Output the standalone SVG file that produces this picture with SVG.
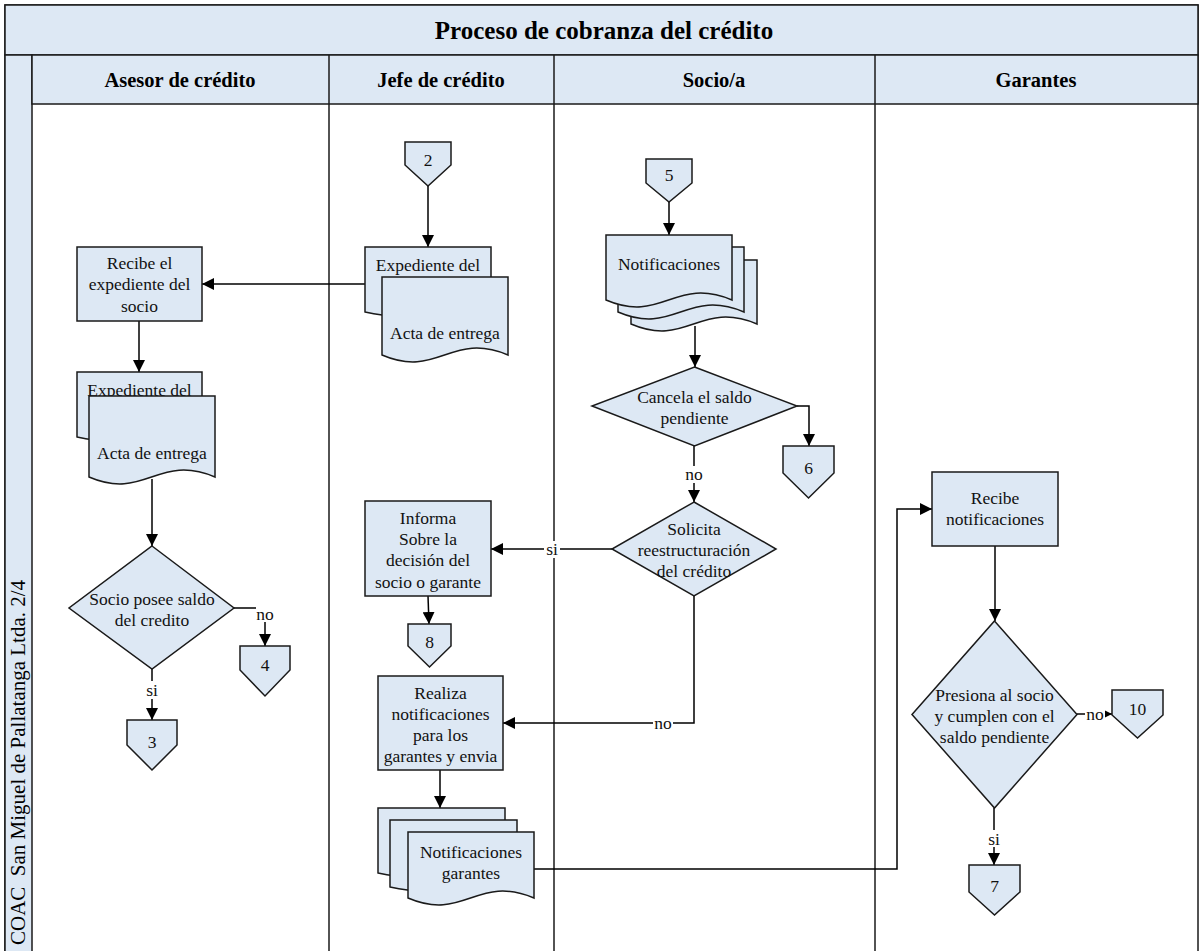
<svg xmlns="http://www.w3.org/2000/svg" width="1203" height="951" viewBox="0 0 1203 951">
<defs>
<marker id="ah" markerUnits="userSpaceOnUse" markerWidth="12" markerHeight="12" viewBox="0 0 12 12" refX="12" refY="6" orient="auto">
<path d="M0,0 L12,6 L0,12 Z" fill="#000"/>
</marker>
</defs>
<style>
.frame{fill:#fff;stroke:#1a1a1a;stroke-width:1.5}
.band{fill:#dde8f4;stroke:#1a1a1a;stroke-width:1.5}
.shape{fill:#dde8f4;stroke:#1a1a1a;stroke-width:1.5}
.lane{stroke:#1a1a1a;stroke-width:1.5;fill:none}
.t{font-family:"Liberation Serif","Times New Roman",serif;font-size:17.5px;fill:#111;text-anchor:middle}
.h{font-family:"Liberation Serif","Times New Roman",serif;font-size:20.5px;font-weight:bold;fill:#000;text-anchor:middle}
.title{font-family:"Liberation Serif","Times New Roman",serif;font-size:25px;font-weight:bold;fill:#000;text-anchor:middle}
.side{font-family:"Liberation Serif","Times New Roman",serif;font-size:21px;fill:#000}
.c{stroke:#000;stroke-width:1.5;fill:none}
.ca{stroke:#000;stroke-width:1.5;fill:none;marker-end:url(#ah)}
.lbg{fill:#fff}
</style>

<g id="pool">
<rect class="frame" x="5" y="5" width="1193" height="960"/>
<rect class="band" x="5" y="5" width="1193" height="50"/>
<rect class="band" x="5" y="55" width="27" height="910"/>
<rect class="band" x="32" y="55" width="1166" height="49"/>
<line class="lane" x1="329" y1="55" x2="329" y2="951"/>
<line class="lane" x1="554" y1="55" x2="554" y2="951"/>
<line class="lane" x1="875" y1="55" x2="875" y2="951"/>
<text class="title" x="604" y="39">Proceso de cobranza del crédito</text>
<text class="h" x="180" y="87">Asesor de crédito</text>
<text class="h" x="441" y="87">Jefe de crédito</text>
<text class="h" x="714" y="87">Socio/a</text>
<text class="h" x="1036" y="87">Garantes</text>
<text class="side" transform="translate(25,945) rotate(-90)">COAC&#160; San Miguel de Pallatanga Ltda. 2/4</text>
</g>

<g id="connectors">
<polyline class="ca" points="365,284 202,284"/>
<polyline class="ca" points="139,321 139,372"/>
<polyline class="ca" points="152,479 152,546"/>
<polyline class="ca" points="234,608 265,608 265,646"/>
<polyline class="ca" points="152,669 152,720"/>
<polyline class="ca" points="428,186 428,247"/>
<polyline class="ca" points="669,202 669,235"/>
<polyline class="ca" points="695,326 695,367"/>
<polyline class="ca" points="797,406 809,406 809,446"/>
<polyline class="ca" points="694,446 694,502"/>
<polyline class="ca" points="612,549 491,549"/>
<polyline class="ca" points="428,596 429,624"/>
<polyline class="ca" points="694,596 694,723 503,723"/>
<polyline class="ca" points="440,770 440,808"/>
<polyline class="ca" points="534,869 897,869 897,509 932,509"/>
<polyline class="ca" points="995,546 995,621"/>
<polyline class="ca" points="1077,714 1112,714"/>
<polyline class="ca" points="994,808 994,865"/>
<rect class="lbg" x="256" y="604" width="19" height="18"/>
<text class="t" x="265" y="620">no</text>
<rect class="lbg" x="144" y="681" width="16" height="18"/>
<text class="t" x="152" y="696">si</text>
<rect class="lbg" x="685" y="466" width="19" height="17"/>
<text class="t" x="694" y="480">no</text>
<rect class="lbg" x="544" y="541" width="16" height="17"/>
<text class="t" x="552" y="555">si</text>
<rect class="lbg" x="653" y="716" width="20" height="15"/>
<text class="t" x="663" y="729">no</text>
<rect class="lbg" x="1085" y="706" width="20" height="15"/>
<text class="t" x="1095" y="720">no</text>
<rect class="lbg" x="986" y="830" width="16" height="17"/>
<text class="t" x="994" y="845">si</text>
</g>

<g id="n-recibe-expediente">
<rect class="shape" x="77" y="247" width="125" height="74"/>
<text class="t" x="139.5" y="269">Recibe el</text>
<text class="t" x="139.5" y="290">expediente del</text>
<text class="t" x="139.5" y="312">socio</text>
</g>

<g id="n-doc-asesor">
<path class="shape" d="M77,372 H202 V437 C146,427 133,450 77,437 Z"/>
<text class="t" x="139.5" y="396">Expediente del</text>
<path class="shape" d="M89,396 H215 V477 C158,453 145,501 89,477 Z"/>
<text class="t" x="152" y="459">Acta de entrega</text>
</g>

<g id="n-dec-saldo">
<polygon class="shape" points="152,546 234,608 152,669 69,608"/>
<text class="t" x="152" y="605">Socio posee saldo</text>
<text class="t" x="152" y="626">del credito</text>
</g>

<g id="n-c4">
<path class="shape" d="M240,646 H290 V670 L265,696 L240,670 Z"/>
<text class="t" x="265" y="671">4</text>
</g>

<g id="n-c3">
<path class="shape" d="M127,720 H177 V745 L152,770 L127,745 Z"/>
<text class="t" x="152" y="748">3</text>
</g>

<g id="n-c2">
<path class="shape" d="M405,142 H451 V165 L428,186 L405,165 Z"/>
<text class="t" x="428" y="166">2</text>
</g>

<g id="n-doc-jefe">
<path class="shape" d="M365,247 H491 V312 C434,302 421,325 365,312 Z"/>
<text class="t" x="428" y="271">Expediente del</text>
<path class="shape" d="M382,277 H508 V355 C451,331 438,379 382,355 Z"/>
<text class="t" x="445" y="339">Acta de entrega</text>
</g>

<g id="n-informa">
<rect class="shape" x="365" y="501" width="126" height="95"/>
<text class="t" x="428" y="524">Informa</text>
<text class="t" x="428" y="545">Sobre la</text>
<text class="t" x="428" y="566">decisión del</text>
<text class="t" x="428" y="588">socio o garante</text>
</g>

<g id="n-c8">
<path class="shape" d="M408,624 H451 V646 L429.5,667 L408,646 Z"/>
<text class="t" x="429.5" y="648">8</text>
</g>

<g id="n-realiza">
<rect class="shape" x="378" y="676" width="125" height="94"/>
<text class="t" x="440.5" y="699">Realiza</text>
<text class="t" x="440.5" y="720">notificaciones</text>
<text class="t" x="440.5" y="741">para los</text>
<text class="t" x="440.5" y="762">garantes y envia</text>
</g>

<g id="n-notif-garantes">
<path class="shape" d="M378,808 H505 V873 C448,863 435,886 378,873 Z"/>
<path class="shape" d="M390,820 H517 V887 C460,877 447,900 390,887 Z"/>
<path class="shape" d="M408,832 H534 V898 C477,874 464,922 408,898 Z"/>
<text class="t" x="471" y="858">Notificaciones</text>
<text class="t" x="471" y="879">garantes</text>
</g>

<g id="n-c5">
<path class="shape" d="M646,159 H692 V183 L669,202 L646,183 Z"/>
<text class="t" x="669" y="181">5</text>
</g>

<g id="n-notificaciones">
<path class="shape" d="M631,260 H757 V324 C700,300 687,348 631,324 Z"/>
<path class="shape" d="M618,247 H744 V312 C687,288 674,336 618,312 Z"/>
<path class="shape" d="M606,235 H732 V300 C675,276 662,324 606,300 Z"/>
<text class="t" x="669" y="270">Notificaciones</text>
</g>

<g id="n-dec-cancela">
<polygon class="shape" points="694.5,367 797,406 694.5,446 592,406"/>
<text class="t" x="694.5" y="403">Cancela el saldo</text>
<text class="t" x="694.5" y="424">pendiente</text>
</g>

<g id="n-c6">
<path class="shape" d="M783,446 H834 V473 L808.5,498 L783,473 Z"/>
<text class="t" x="808.5" y="474">6</text>
</g>

<g id="n-dec-solicita">
<polygon class="shape" points="694,502 776,549 694,596 612,549"/>
<text class="t" x="694" y="535">Solicita</text>
<text class="t" x="694" y="556">reestructuración</text>
<text class="t" x="694" y="577">del crédito</text>
</g>

<g id="n-recibe-notif">
<rect class="shape" x="932" y="472" width="126" height="74"/>
<text class="t" x="995" y="504">Recibe</text>
<text class="t" x="995" y="525">notificaciones</text>
</g>

<g id="n-dec-presiona">
<polygon class="shape" points="994.5,621 1077,714.5 994.5,808 912,714.5"/>
<text class="t" x="994.5" y="701">Presiona al socio</text>
<text class="t" x="994.5" y="722">y cumplen con el</text>
<text class="t" x="994.5" y="743">saldo pendiente</text>
</g>

<g id="n-c10">
<path class="shape" d="M1112,690 H1163 V715 L1137.5,738 L1112,715 Z"/>
<text class="t" x="1137.5" y="715">10</text>
</g>

<g id="n-c7">
<path class="shape" d="M969,865 H1020 V892 L994.5,915 L969,892 Z"/>
<text class="t" x="994.5" y="892">7</text>
</g>
</svg>
